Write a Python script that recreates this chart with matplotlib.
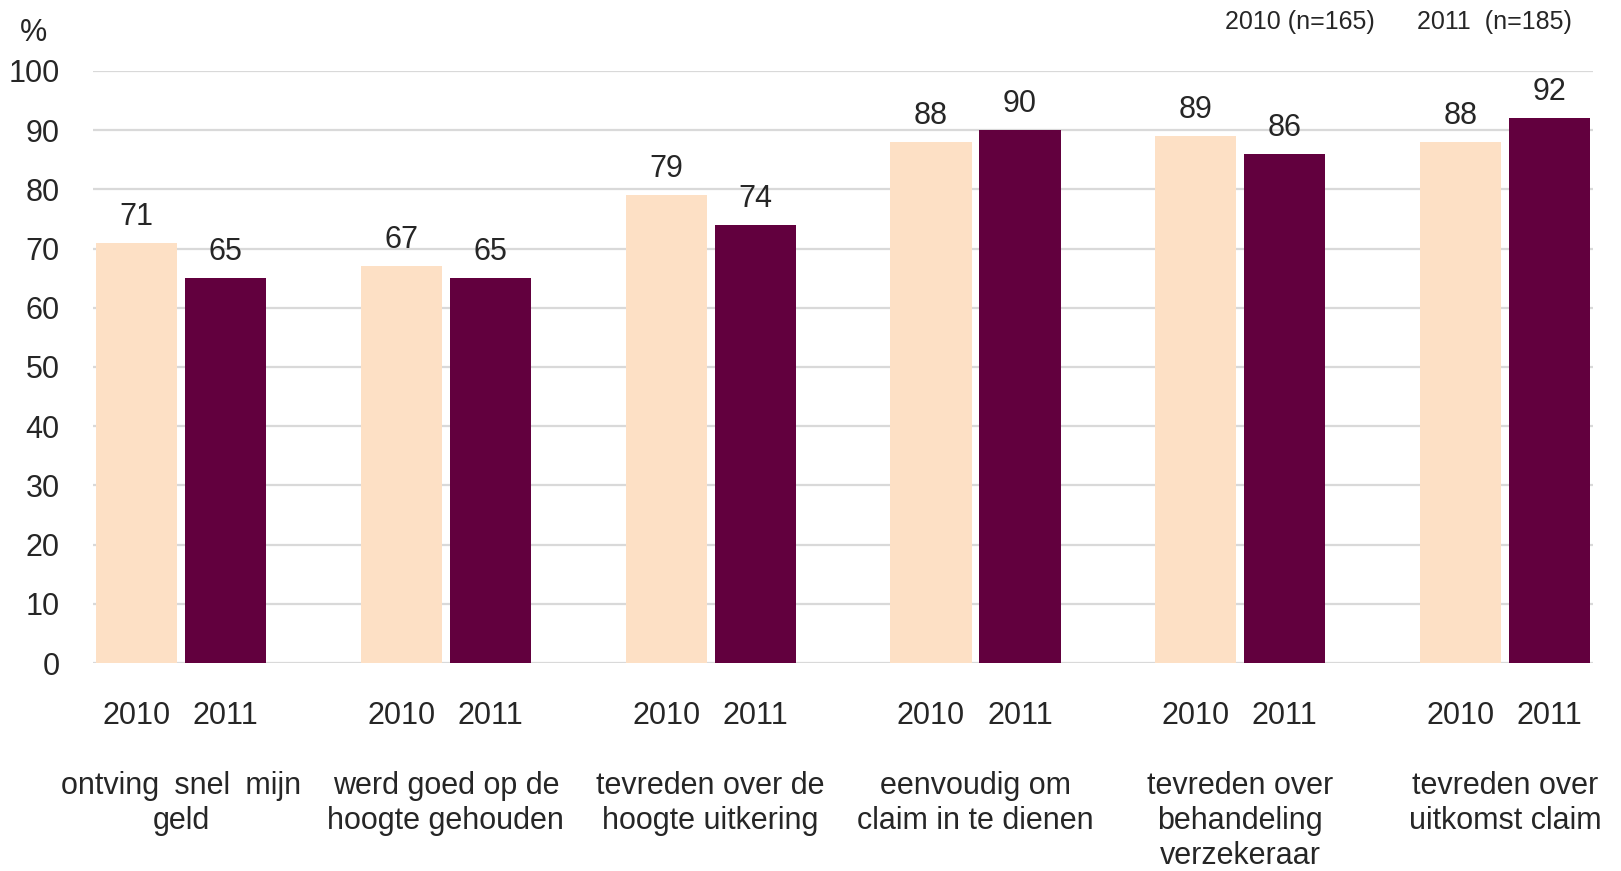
import numpy as np
import matplotlib
matplotlib.use("Agg")
from matplotlib import pyplot as plt
import matplotlib.transforms as mtransforms

categories = ["ontving\u2002snel\u2002mijn\ngeld",
              "werd goed op de\nhoogte gehouden",
              "tevreden over de\nhoogte uitkering",
              "eenvoudig om\nclaim in te dienen",
              "tevreden over\nbehandeling\nverzekeraar",
              "tevreden over\nuitkomst claim"]
years = ["2010", "2011"]
vals_2010 = [71, 67, 79, 88, 89, 88]
vals_2011 = [65, 65, 74, 90, 86, 92]
yticks = [0, 10, 20, 30, 40, 50, 60, 70, 80, 90, 100]

c2010 = "#FDE0C5"
c2011 = "#62003E"
txt = "#262626"

plt.rcParams['font.family'] = ['Liberation Sans', 'DejaVu Sans']

fig = plt.figure(figsize=(16.21, 8.71), dpi=100)
ax = fig.add_axes([0.0574, 0.2388, 0.9254, 0.6797])

x = np.arange(len(categories))
w = 0.306
off = 0.168
b1 = ax.bar(x - off, vals_2010, w, color=c2010, zorder=2)
b2 = ax.bar(x + off, vals_2011, w, color=c2011, zorder=2)

for bars, vals in ((b1, vals_2010), (b2, vals_2011)):
    for r, v in zip(bars, vals):
        ax.annotate(str(v), (r.get_x() + r.get_width() / 2, v),
                    xytext=(0, 8), textcoords="offset points",
                    ha="center", va="bottom", fontsize=22, color=txt)

ax.set_ylim(0, 100)
ax.set_xlim(-0.332, len(categories) - 1 + 0.332)
ax.set_yticks(yticks)
ax.yaxis.grid(True, color="#D9D9D9", linewidth=1.6, zorder=0)
ax.set_axisbelow(True)
for s in ax.spines.values():
    s.set_visible(False)
ax.tick_params(axis="y", length=0, pad=24, labelsize=22, labelcolor=txt)

pos = np.concatenate([x - off, x + off])
labs = [years[0]] * len(x) + [years[1]] * len(x)
ax.set_xticks(pos)
ax.set_xticklabels(labs)
ax.tick_params(axis="x", length=0, pad=27, labelsize=22, labelcolor=txt)

trans = mtransforms.blended_transform_factory(ax.transData, ax.transAxes)
for i, c in enumerate(categories):
    ax.text(i, -0.182, c, transform=trans, ha="center", va="top",
            fontsize=22, color=txt, linespacing=1.23)

fig.text(0.012, 0.962, "%", fontsize=22, color=txt, va="center")
fig.text(0.756, 0.975, "2010 (n=165)", fontsize=18, color=txt, va="center")
fig.text(0.874, 0.975, "2011  (n=185)", fontsize=18, color=txt, va="center")

fig.savefig("out.png", dpi=100)
